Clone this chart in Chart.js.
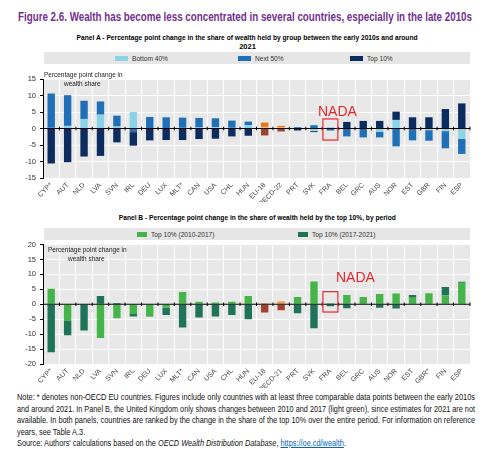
<!DOCTYPE html>
<html>
<head>
<meta charset="utf-8">
<script src="https://cdn.jsdelivr.net/npm/chart.js@4.4.1/dist/chart.umd.min.js"></script>
<style>
  body { margin: 0; width: 483px; height: 450px; position: relative; background: #fff; overflow: hidden;
         font-family: 'Liberation Sans Narrow', 'Liberation Sans', Arial, sans-serif; }
  .abs { position: absolute; }
  .fit { white-space: nowrap; }
  .fit > span { display: inline-block; }
  #title { left: 18px; top: 11px; font-weight: bold; font-size: 12px; line-height: 13px; color: #72308F; }
  .ptitle { font-weight: bold; font-size: 7.5px; line-height: 9px; color: #000; text-align: center; }
  .legend { left: 44px; width: 426px; height: 12px; background: #E6E6E6; }
  .li { position: absolute; top: 0; height: 12px; display: flex; align-items: center; font-size: 6.6px; color: #333; white-space: nowrap; }
  .sw { display: inline-block; width: 12px; height: 5px; margin-right: 4px; }
  #note { left: 17px; top: 392px; width: 458px; font-size: 8.6px; line-height: 11.5px; color: #111; }
  #note a { color: #0563C1; }
  canvas { position: absolute; left: 0; }
</style>
</head>
<body>

<div id="title" class="abs fit"><span>Figure 2.6. Wealth has become less concentrated in several countries, especially in the late 2010s</span></div>

<div class="abs ptitle" style="left:0;width:495px;top:33px;">
  <div class="fit" id="ptA"><span>Panel A - Percentage point change in the share of wealth held by group between the early 2010s and around</span></div>
  <div>2021</div>
</div>
<div class="abs legend" id="legendA" style="top:52px;"></div>
<canvas id="chartA" width="483" height="132" style="top:70px;"></canvas>

<div class="abs ptitle fit" id="ptB" style="left:0;width:515px;top:213px;"><span>Panel B - Percentage point change in the share of wealth held by the top 10%, by period</span></div>
<div class="abs legend" id="legendB" style="top:228px;"></div>
<canvas id="chartB" width="483" height="152" style="top:236px;"></canvas>

<div id="note" class="abs">
  <div class="fit j"><span>Note: * denotes non-OECD EU countries. Figures include only countries with at least three comparable data points between the early 2010s</span></div>
  <div class="fit j"><span>and around 2021. In Panel B, the United Kingdom only shows changes between 2010 and 2017 (light green), since estimates for 2021 are not</span></div>
  <div class="fit j"><span>available. In both panels, countries are ranked by the change in the share of the top 10% over the entire period. For information on reference</span></div>
  <div class="fit"><span>years, see Table A.3.</span></div>
  <div class="fit"><span>Source: Authors' calculations based on the <i>OECD Wealth Distribution Database</i>, <a href="#">https://oe.cd/wealth</a>.</span></div>
</div>

<script>
// === Data ===
const countriesA = ["CYP*", "AUT", "NLD", "LVA", "SVN", "IRL", "DEU", "LUX", "MLT*", "CAN", "USA", "CHL", "HUN",
  "EU-18", "OECD-22", "PRT", "SVK", "FRA", "BEL", "GRC", "AUS", "NOR", "EST", "GBR", "FIN", "ESP"];
const bottom40 = [0.2, 0.8, 2.9, 4.2, 0.6, 5.0, 0.1, 0.1, 0.2, 0.3, 0.4, 0.2, 1.0,
  0.5, 0.3, 0.1, -0.8, 0.4, 0.0, 0.0, -1.0, 2.6, 0.0, -0.5, -0.8, -3.1];
const next50 = [10.4, 9.3, 5.5, 4.0, 3.3, -1.1, 3.4, 3.3, 3.1, 2.9, 2.7, 2.2, 1.1,
  1.3, 0.5, 0.3, 1.0, -0.5, -2.4, -2.7, -1.7, -5.4, -3.6, -3.2, -5.2, -4.6];
const top10 = [-10.6, -10.2, -8.5, -8.3, -4.2, -4.1, -3.6, -3.5, -3.5, -3.2, -3.1, -2.4, -2.2,
  -2.1, -0.9, -0.6, -0.3, -0.1, 2.0, 2.3, 2.3, 2.5, 3.4, 3.4, 5.9, 7.6];

const countriesB = ["CYP*", "AUT", "NLD", "LVA", "SVN", "IRL", "DEU", "LUX", "MLT*", "CAN", "USA", "CHL", "HUN",
  "EU-18", "OECD-21", "PRT", "SVK", "FRA", "BEL", "GRC", "AUS", "NOR", "EST", "GBR*", "FIN", "ESP"];
const top10Early = [5.2, -5.6, 0.0, -11.3, -4.7, -3.3, -3.9, -1.2, 4.1, 0.8, 0.6, 0.8, 2.8,
  0.3, 1.0, 2.4, 7.6, 0.3, 3.1, 2.4, 3.4, 3.6, 2.2, 3.7, 3.0, 7.2];
const top10Late = [-16.1, -4.8, -8.8, 2.8, 0.4, -0.8, -0.2, -2.4, -7.8, -4.4, -4.1, -3.6, -5.0,
  -2.8, -2.0, -3.0, -8.0, -0.7, -1.3, 0.0, -1.2, -1.4, 0.9, 0.0, 2.8, 0.3];

const yRangeA = [-15, 15];
const yRangeB = [-20, 20];
const yStep = 5;
const aggregates = ["EU-18", "OECD-22", "OECD-21"];

const FONT = "'Liberation Sans Narrow', 'Liberation Sans', Arial, sans-serif";

function colorsFor(labels, normal, agg) {
  return labels.map(l => aggregates.includes(l) ? agg : normal);
}

// narrow-looking text on the canvas
function squeezeText(ctx, text, x, y, sx) {
  ctx.save();
  ctx.translate(x, y);
  ctx.scale(sx, 1);
  ctx.fillText(text, 0, 0);
  ctx.restore();
}

// === Grey panel, zero line, axis title and the red NADA box ===
const panelDecor = {
  id: "panelDecor",
  beforeDraw(chart) {
    const { ctx, chartArea: a } = chart;
    ctx.save();
    ctx.fillStyle = "#E8E8E8";
    ctx.fillRect(a.left, a.top, a.right - a.left, a.bottom - a.top);
    ctx.restore();
  },
  afterDatasetsDraw(chart, args, opts) {
    const { ctx, chartArea: a, scales: { x, y } } = chart;
    const y0 = y.getPixelForValue(0);
    ctx.save();
    ctx.strokeStyle = "#000";
    ctx.lineWidth = 1.2;
    ctx.beginPath();
    ctx.moveTo(a.left, y0);
    ctx.lineTo(a.right, y0);
    ctx.stroke();
    ctx.lineWidth = 1;
    const n = chart.data.labels.length;
    for (let i = 1; i <= n; i++) {
      const xb = i < n ? (x.getPixelForValue(i - 1) + x.getPixelForValue(i)) / 2 : a.right;
      ctx.beginPath();
      ctx.moveTo(xb, y0 - 1.8);
      ctx.lineTo(xb, y0 + 1.8);
      ctx.stroke();
    }

    // axis title inside the plot
    ctx.fillStyle = "#222";
    ctx.font = "7.5px " + FONT;
    ctx.textAlign = "left";
    squeezeText(ctx, "Percentage point change in", a.left + opts.titleDx, a.top + opts.titleDy, 0.86);
    squeezeText(ctx, "wealth share", a.left + opts.titleDx + 20, a.top + opts.titleDy + 8.5, 0.86);

    // NADA annotation
    const i = chart.data.labels.indexOf("FRA");
    const xc = x.getPixelForValue(i);
    const yt = y.getPixelForValue(opts.boxRange[1]);
    const yb = y.getPixelForValue(opts.boxRange[0]);
    ctx.strokeStyle = "#E3262B";
    ctx.lineWidth = 1.2;
    ctx.strokeRect(xc - 7.5, yt, 15, yb - yt);
    ctx.fillStyle = "#E3262B";
    ctx.font = "14px 'Liberation Sans', Arial, sans-serif";
    ctx.textAlign = "center";
    ctx.fillText("NADA", xc + opts.textDx, yt - opts.textDy);
    ctx.restore();
  }
};

function makeChart(id, labels, datasets, range, padTop, decor) {
  return new Chart(document.getElementById(id), {
    type: "bar",
    data: { labels, datasets },
    options: {
      responsive: false,
      animation: false,
      layout: { padding: { top: padTop, right: 13, left: 0, bottom: 0 } },
      plugins: { legend: { display: false }, tooltip: { enabled: false }, panelDecor: decor },
      datasets: { bar: { barPercentage: 0.45, categoryPercentage: 1, borderWidth: 0 } },
      scales: {
        x: {
          stacked: true,
          grid: { color: "#fff", lineWidth: 1, drawTicks: false, offset: true },
          border: { display: false },
          ticks: { autoSkip: false, maxRotation: 45, minRotation: 45, padding: 3, color: "#444",
                   font: { size: 7, family: FONT } },
          afterFit: s => { s.height = 24; }
        },
        y: {
          stacked: true,
          min: range[0],
          max: range[1],
          grid: { color: "#fff", lineWidth: 1, tickColor: "#000", tickLength: 3 },
          border: { display: true, color: "#000", width: 1 },
          ticks: { stepSize: yStep, padding: 4, color: "#333", font: { size: 7.5, family: FONT } },
          afterFit: s => { s.width = 43; }
        }
      }
    },
    plugins: [panelDecor]
  });
}

// === Panel A ===
const dsA = [
  { label: "Bottom 40%", data: bottom40, backgroundColor: colorsFor(countriesA, "#8DD3E7", "#F6B36B") },
  { label: "Next 50%", data: next50, backgroundColor: colorsFor(countriesA, "#1F70B7", "#E8761E") },
  { label: "Top 10%", data: top10, backgroundColor: colorsFor(countriesA, "#0C2B5F", "#9E422A") }
];
makeChart("chartA", countriesA, dsA, yRangeA, 9,
  { titleDx: 1, titleDy: -2, boxRange: [-3.5, 2.9], textDx: 7, textDy: 3 });

// === Panel B ===
const dsB = [
  { label: "Top 10% (2010-2017)", data: top10Early, backgroundColor: colorsFor(countriesB, "#45B549", "#F0A04B") },
  { label: "Top 10% (2017-2021)", data: top10Late, backgroundColor: colorsFor(countriesB, "#1E7358", "#A63F2B") }
];
makeChart("chartB", countriesB, dsB, yRangeB, 8,
  { titleDx: 5, titleDy: 7.5, boxRange: [-2.6, 4.2], textDx: 25, textDy: 10 });

// === HTML legends ===
function buildLegend(id, datasets, lefts, swW) {
  const box = document.getElementById(id);
  datasets.forEach((d, k) => {
    const item = document.createElement("div");
    item.className = "li";
    item.style.left = lefts[k] + "px";
    const c = Array.isArray(d.backgroundColor) ? d.backgroundColor[0] : d.backgroundColor;
    item.innerHTML = `<span class="sw" style="background:${c};width:${swW}px"></span>${d.label}`;
    box.appendChild(item);
  });
}
buildLegend("legendA", dsA, [71, 194, 306], 13);
buildLegend("legendB", dsB, [93, 254], 10);

// === Fit text lines to the widths seen in the reference ===
function fit(el, target, origin) {
  const span = el.firstElementChild;
  const w = span.getBoundingClientRect().width;
  const s = target / w;
  span.style.transformOrigin = origin;
  span.style.transform = `scaleX(${s})`;
  return s;
}
fit(document.getElementById("title"), 454, "left center");
fit(document.getElementById("ptA"), 341, "center center");
fit(document.getElementById("ptB"), 277, "center center");
const noteLines = [...document.querySelectorAll("#note > div")];
let sum = 0;
noteLines.slice(0, 3).forEach(el => { sum += fit(el, 458, "left center"); });
const avg = sum / 3;
noteLines.slice(3).forEach(el => {
  const span = el.firstElementChild;
  span.style.transformOrigin = "left center";
  span.style.transform = `scaleX(${avg})`;
});
</script>
</body>
</html>
